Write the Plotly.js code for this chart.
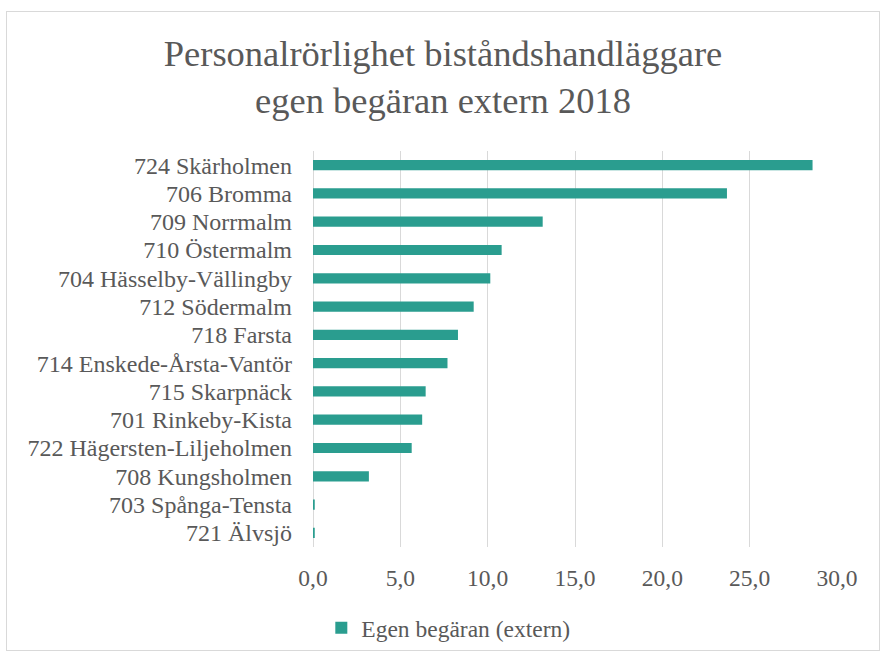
<!DOCTYPE html>
<html>
<head>
<meta charset="utf-8">
<script src="https://cdn.plot.ly/plotly-3.0.1.min.js"></script>
<style>
html,body{margin:0;padding:0;background:#fff;}
#frame{position:absolute;left:6px;top:11px;width:874px;height:640px;border:1px solid #d9d9d9;box-sizing:border-box;}
#chart{position:absolute;left:0;top:0;width:886px;height:655px;}
</style>
</head>
<body>
<div id="frame"></div>
<div id="chart"></div>
<script>
const categories = [
  "724 Skärholmen",
  "706 Bromma",
  "709 Norrmalm",
  "710 Östermalm",
  "704 Hässelby-Vällingby",
  "712 Södermalm",
  "718 Farsta",
  "714 Enskede-Årsta-Vantör",
  "715 Skarpnäck",
  "701 Rinkeby-Kista",
  "722 Hägersten-Liljeholmen",
  "708 Kungsholmen",
  "703 Spånga-Tensta",
  "721 Älvsjö"
];
const values = [28.6, 23.7, 13.15, 10.8, 10.15, 9.2, 8.3, 7.7, 6.45, 6.25, 5.65, 3.2, 0.1, 0.1];
const seriesName = "Egen begäran (extern)";
const titleText = "Personalrörlighet biståndshandläggare<br>egen begäran extern 2018";

const font = "Liberation Serif, Times New Roman, serif";
const grey = "#595959";

Plotly.newPlot("chart", [{
  type: "bar",
  orientation: "h",
  y: categories,
  x: values,
  name: seriesName,
  marker: {color: "#2a9d8f", line: {width: 0}},
  showlegend: true
}], {
  width: 886, height: 655,
  paper_bgcolor: "rgba(0,0,0,0)",
  plot_bgcolor: "rgba(0,0,0,0)",
  margin: {l: 313, r: 49, t: 151, b: 108},
  separators: ", ",
  title: {text: titleText, font: {family: font, size: 36.5, color: grey}, x: 0.5, xanchor: "center", xref: "container", y: 1 - 66/655, yanchor: "middle", yref: "container"},
  bargap: 0.64,
  xaxis: {
    range: [0, 30], dtick: 5, tickformat: ".1f", automargin: false,
    showgrid: true, gridcolor: "#d9d9d9", gridwidth: 1,
    zeroline: true, zerolinecolor: "#d9d9d9", zerolinewidth: 1,
    showline: false, ticks: "",
    ticklabelstandoff: 14,
    tickfont: {family: font, size: 23.5, color: grey}
  },
  yaxis: {
    autorange: "reversed", type: "category", automargin: false,
    tickmode: "array", tickvals: categories, ticktext: categories,
    showgrid: false, showline: false, ticks: "",
    ticklabelstandoff: 20,
    tickfont: {family: font, size: 24, color: grey}
  },
  legend: {
    orientation: "h", x: 0.506, xanchor: "center", xref: "container",
    y: 1 - 628/655, yanchor: "middle", yref: "container",
    font: {family: font, size: 23.5, color: grey},
    itemwidth: 30
  }
}, {displayModeBar: false, staticPlot: true});
</script>
</body>
</html>
